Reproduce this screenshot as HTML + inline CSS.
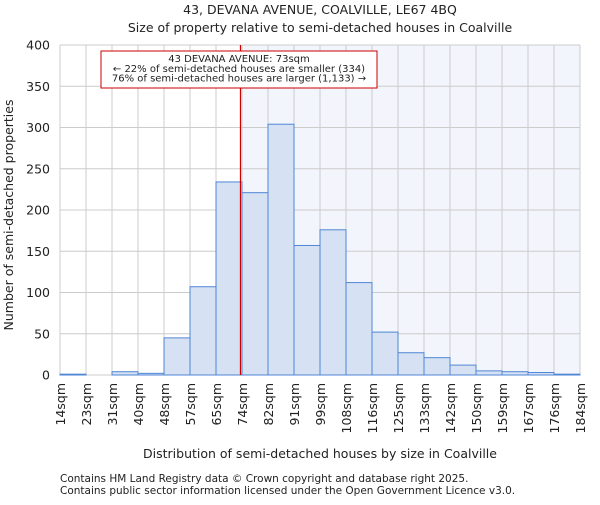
<!DOCTYPE html>
<html><head><meta charset="utf-8"><style>
body{margin:0;background:#fff;width:600px;height:500px;overflow:hidden}
text{font-family:"DejaVu Sans","Liberation Sans",sans-serif;fill:#222}
</style></head><body>
<svg id="chart" width="600" height="500" xmlns="http://www.w3.org/2000/svg">
<text x="320" y="14" text-anchor="middle" font-size="12.5">43, DEVANA AVENUE, COALVILLE, LE67 4BQ</text>
<text x="320" y="32" text-anchor="middle" font-size="12.5">Size of property relative to semi-detached houses in Coalville</text>
<g id="plot"></g>
<text x="320" y="458" text-anchor="middle" font-size="12.5">Distribution of semi-detached houses by size in Coalville</text>
<text transform="translate(13,215) rotate(-90)" text-anchor="middle" font-size="12.5">Number of semi-detached properties</text>
<text x="60" y="482" font-size="10.5" fill="#444">Contains HM Land Registry data © Crown copyright and database right 2025.</text>
<text x="60" y="494" font-size="10.5" fill="#444">Contains public sector information licensed under the Open Government Licence v3.0.</text>
</svg>
<script>
const binEdges=[14,23,31,40,48,57,65,74,82,91,99,108,116,125,133,142,150,159,167,176,184];
const counts=[1,0,4,2,45,107,234,221,304,157,176,112,52,27,21,12,5,4,3,1];
const yTicks=[0,50,100,150,200,250,300,350,400];
const propertySize=73;
const ns="http://www.w3.org/2000/svg";
const X0=60,X1=580,Y0=375,Y1=45,minV=14,binW=8.5,nb=counts.length;
function xs(v){return X0+(v-minV)/(binW*nb)*(X1-X0);}
function xi(i){return X0+i*(X1-X0)/nb;}
function ys(v){return Y0-v/400*(Y0-Y1);}
const g=document.getElementById('plot');
function mk(t,a){const e=document.createElementNS(ns,t);for(const k in a)e.setAttribute(k,a[k]);g.appendChild(e);return e;}
const px=xs(propertySize);
let e=mk('rect',{x:px,y:Y1,width:X1-px,height:Y0-Y1,fill:'#f3f5fd'});


yTicks.forEach(t=>{
 let l=mk('line',{x1:X0,x2:X1,y1:ys(t),y2:ys(t),stroke:'#ccc','stroke-width':1});
 
 
 let tx=mk('text',{x:X0-10,y:ys(t)+4.5,'text-anchor':'end','font-size':'12.5'});tx.textContent=t;
 
 
});
binEdges.forEach((b,i)=>{
 let l=mk('line',{x1:xi(i),x2:xi(i),y1:Y1,y2:Y0,stroke:'#ccc','stroke-width':1});
 
 
 let tx=mk('text',{transform:`translate(${xi(i)+5},${Y0+8}) rotate(-90)`,'text-anchor':'end','font-size':'12.5'});tx.textContent=b+'sqm';
 
 
});
counts.forEach((c,i)=>{
 let r=mk('rect',{x:xi(i),y:ys(c),width:xi(i+1)-xi(i),height:Y0-ys(c),fill:'#d6e1f3',stroke:'#4f86d4','stroke-width':1});
 
 
});
e=mk('line',{x1:px,x2:px,y1:Y1,y2:Y0,stroke:'#cc0000','stroke-width':1.2});


e=mk('rect',{x:101,y:51,width:276,height:37,fill:'#fff',stroke:'#cc0000','stroke-width':1});


["43 DEVANA AVENUE: 73sqm","← 22% of semi-detached houses are smaller (334)","76% of semi-detached houses are larger (1,133) →"].forEach((s,i)=>{
 let t=mk('text',{x:239,y:62+i*9.8,'text-anchor':'middle','font-size':'10'});t.textContent=s;
 
 
});
</script>
</body></html>
